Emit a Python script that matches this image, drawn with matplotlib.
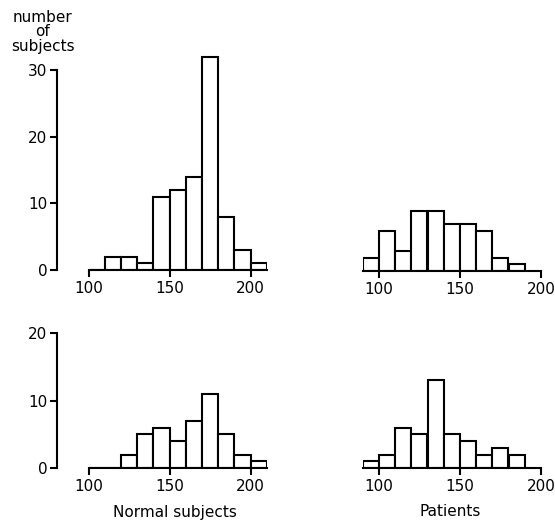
import numpy as np
import matplotlib
matplotlib.use("Agg")
import matplotlib.pyplot as plt

# bin left edges and counts
normal_top_edges = np.arange(100, 210, 10)
normal_top_counts = [0, 2, 2, 1, 11, 12, 14, 32, 8, 3, 1]
patient_top_edges = np.arange(90, 190, 10)
patient_top_counts = [2, 6, 3, 9, 9, 7, 7, 6, 2, 1]
normal_bot_edges = np.arange(100, 210, 10)
normal_bot_counts = [0, 0, 2, 5, 6, 4, 7, 11, 5, 2, 1]
patient_bot_edges = np.arange(90, 190, 10)
patient_bot_counts = [1, 2, 6, 5, 13, 5, 4, 2, 3, 2]

x_ticks = [100, 150, 200]
top_yticks = [0, 10, 20, 30]
bot_yticks = [0, 10, 20]

plt.rcParams['font.family'] = 'DejaVu Sans'
plt.rcParams['font.size'] = 11

fig = plt.figure(figsize=(5.55, 5.24), dpi=100)

W, H = 555.0, 524.0


def make_ax(left_px, base_px, xlim, ylim, yspan_px, yticks):
    xw = (xlim[1] - xlim[0]) * 1.62
    h = (ylim[1] - ylim[0]) * yspan_px
    ax = fig.add_axes([left_px / W, (H - base_px) / H, xw / W, h / H])
    ax.set_xlim(*xlim)
    ax.set_ylim(*ylim)
    for s in ['top', 'right']:
        ax.spines[s].set_visible(False)
    ax.spines['bottom'].set_linewidth(1.5)
    ax.spines['left'].set_linewidth(1.5)
    ax.set_xticks(x_ticks)
    ax.tick_params(axis='both', direction='out', length=5, width=1.5, pad=3)
    if yticks is None:
        ax.spines['left'].set_visible(False)
        ax.set_yticks([])
    else:
        ax.spines['left'].set_position(('outward', 22.5))
        ax.spines['left'].set_bounds(yticks[0], yticks[-1])
        ax.set_yticks(yticks)
        ax.tick_params(axis='y', pad=2)
    return ax


ax1 = make_ax(88.5, 270, (100, 210), (0, 32.5), 6.67, top_yticks)
ax1.bar(normal_top_edges, normal_top_counts, width=10, align='edge',
        facecolor='white', edgecolor='black', linewidth=1.5)

ax2 = make_ax(362.7, 271, (90, 200), (0, 32.5), 6.67, None)
ax2.bar(patient_top_edges, patient_top_counts, width=10, align='edge',
        facecolor='white', edgecolor='black', linewidth=1.5)

ax3 = make_ax(88.5, 468, (100, 210), (0, 20), 6.74, bot_yticks)
ax3.bar(normal_bot_edges, normal_bot_counts, width=10, align='edge',
        facecolor='white', edgecolor='black', linewidth=1.5)

ax4 = make_ax(362.7, 468, (90, 200), (0, 20), 6.74, None)
ax4.bar(patient_bot_edges, patient_bot_counts, width=10, align='edge',
        facecolor='white', edgecolor='black', linewidth=1.5)

fig.text(43 / W, 1 - 32 / H, "number\nof\nsubjects", ha='center', va='center',
         linespacing=1.0)
fig.text(175 / W, 1 - 512 / H, "Normal subjects", ha='center', va='center')
fig.text(450 / W, 1 - 512 / H, "Patients", ha='center', va='center')

fig.savefig("out.png", dpi=100)
